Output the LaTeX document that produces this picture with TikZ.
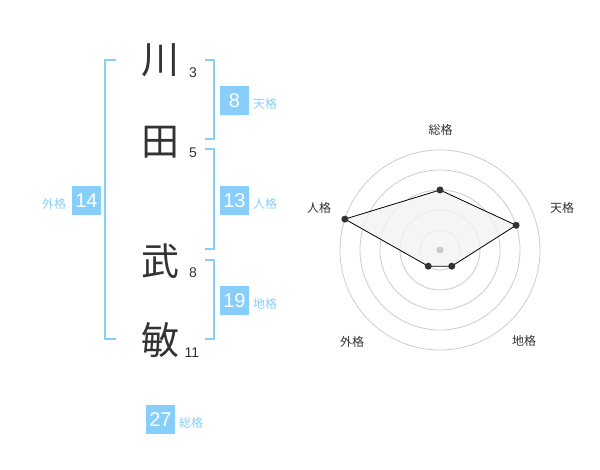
\documentclass[tikz,border=0pt]{standalone}
\usepackage{fontspec}
\setmainfont{Liberation Sans}
\newfontfamily\jp{Noto Sans CJK JP}
\definecolor{kakublue}{HTML}{87CEFA}
\definecolor{inkgray}{HTML}{333333}
\definecolor{webfill}{HTML}{F2F2F2}

\begin{document}
\begin{tikzpicture}[x=1pt,y=-1pt,
  every node/.style={inner sep=0pt, outer sep=0pt},
  kanji/.style={font=\jp\fontsize{38}{38}\selectfont, text=inkgray},
  strokes/.style={font=\fontsize{14}{14}\selectfont, text=inkgray},
  kaku/.style={fill=kakublue, minimum size=29pt, text=white, font=\fontsize{20}{20}\selectfont},
  kakuname/.style={font=\jp\fontsize{12}{12}\selectfont, text=kakublue},
  bracket/.style={draw=kakublue, line width=2pt},
  ring/.style={draw=black!20, line width=0.8pt},
  axisname/.style={font=\jp\fontsize{12}{12}\selectfont, text=inkgray},
  dot/.style={circle, fill=inkgray, minimum size=7pt}]
\useasboundingbox (0,0) rectangle (600,470);

% name
\node[kanji] (kawa) at (160,60) {川};
\node[kanji] (ta) at (160,142) {田};
\node[kanji] (take) at (160,261) {武};
\node[kanji] (bin) at (160,340) {敏};
\node[strokes] (kawa-n) at (193,73) {3};
\node[strokes] (ta-n) at (193,153) {5};
\node[strokes] (take-n) at (193,273) {8};
\node[strokes] (bin-n) at (192,353) {11};

% brackets
\draw[bracket] (116,60) -- (105,60) -- (105,339) -- (116,339);
\draw[bracket] (205,60) -- (214,60) -- (214,139) -- (205,139);
\draw[bracket] (205,149) -- (214,149) -- (214,249) -- (205,249);
\draw[bracket] (205,260) -- (214,260) -- (214,339) -- (205,339);

% kaku
\node[kaku] (ten) at (234.5,100.5) {8};
\node[kakuname, anchor=west] (ten-l) at (253,104) {天格};
\node[kaku] (jin) at (234.5,200.5) {13};
\node[kakuname, anchor=west] (jin-l) at (253,204) {人格};
\node[kaku] (chi) at (234.5,300.5) {19};
\node[kakuname, anchor=west] (chi-l) at (253,304) {地格};
\node[kaku] (gai) at (86.5,200.5) {14};
\node[kakuname, anchor=east] (gai-l) at (66,204) {外格};
\node[kaku] (sou) at (160.5,419.5) {27};
\node[kakuname, anchor=west] (sou-l) at (179,423) {総格};

% radar
\coordinate (c) at (440,250);
\foreach \r in {20,40,60,80,100}
  \draw[ring] (c) circle (\r pt);
\coordinate (p-sou) at ([shift={(90:60pt)}]c);
\coordinate (p-ten) at ([shift={(18:80pt)}]c);
\coordinate (p-chi) at ([shift={(-54:20pt)}]c);
\coordinate (p-gai) at ([shift={(234:20pt)}]c);
\coordinate (p-jin) at ([shift={(162:100pt)}]c);
\draw[fill=webfill, fill opacity=0.8, line width=0.8pt] (p-sou) -- (p-ten) -- (p-chi) -- (p-gai) -- (p-jin) -- cycle;
\node[circle, fill=black!20, minimum size=7pt] (mid) at (c) {};
\foreach \p in {sou,ten,chi,gai,jin}
  \node[dot] (d-\p) at (p-\p) {};
\node[axisname] (a-sou) at (440.5,130) {総格};
\node[axisname] (a-ten) at (562,208) {天格};
\node[axisname] (a-jin) at (319,208) {人格};
\node[axisname] (a-gai) at (352,342) {外格};
\node[axisname] (a-chi) at (524,341) {地格};
\end{tikzpicture}
\end{document}
